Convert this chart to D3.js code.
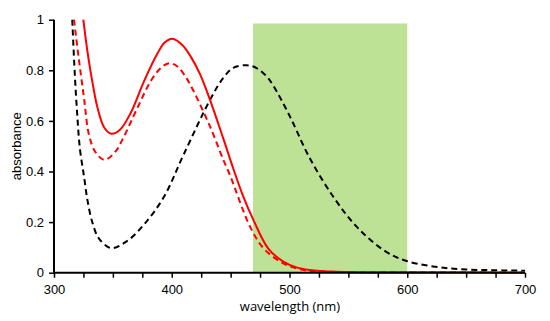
<!DOCTYPE html>
<html>
<head>
<meta charset="utf-8">
<script src="https://cdn.jsdelivr.net/npm/d3@7"></script>
<style>
  body { margin: 0; background: #fff; }
  text { font-family: Arial, "Liberation Sans", sans-serif; }
</style>
</head>
<body>
<div id="chart"></div>
<script>
// data
const blackWl  = [315.5, 317.6, 319.8, 322, 325.5, 328.3, 332.5, 338.2, 348.7, 362, 376.4, 393.4, 410, 432.5, 443.8, 452.3, 463.5, 472, 480.6, 486.2, 500.4, 516.5, 537.2, 557, 579.7, 599.5, 636, 670, 700];
const blackAbs = [1.0, 0.79, 0.62, 0.49, 0.38, 0.29, 0.2, 0.135, 0.097, 0.125, 0.19, 0.30, 0.466, 0.683, 0.77, 0.81, 0.82, 0.809, 0.776, 0.74, 0.617, 0.459, 0.30, 0.182, 0.09, 0.046, 0.017, 0.010, 0.008];

const redWl  = [324.9, 328, 332.5, 336.8, 342.5, 348.7, 356, 365, 376.4, 387.7, 394, 400.5, 409, 416, 424, 432.5, 443.8, 452, 460, 469.3, 482, 494.7, 506, 517, 540, 600, 700];
const redAbs = [1.0, 0.888, 0.756, 0.655, 0.575, 0.549, 0.565, 0.63, 0.756, 0.865, 0.91, 0.925, 0.9, 0.855, 0.785, 0.683, 0.53, 0.415, 0.31, 0.209, 0.095, 0.044, 0.021, 0.011, 0.004, 0.002, 0.001];

const redDashWl  = [317, 321, 325.5, 329.7, 335.4, 343, 352.4, 358, 370.7, 382, 390.6, 397.7, 404, 411, 418.3, 432.5, 443.8, 449.5, 466.5, 477.8, 492, 503, 515, 540, 600, 700];
const redDashAbs = [1.0, 0.848, 0.69, 0.545, 0.475, 0.446, 0.48, 0.525, 0.65, 0.756, 0.809, 0.828, 0.818, 0.78, 0.72, 0.578, 0.446, 0.385, 0.182, 0.097, 0.044, 0.021, 0.008, 0.003, 0.002, 0.001];

const band = [469, 600, 0.985]; // green region: from, to, top
const xTicks = [300, 400, 500, 600, 700];
const yTicks = [0, 0.2, 0.4, 0.6, 0.8, 1];

const width = 550, height = 321;
const margin = {top: 19.7, right: 25, bottom: 48.3, left: 54};

const svg = d3.select("#chart").append("svg")
  .attr("width", width)
  .attr("height", height);

const x = d3.scaleLinear().domain([300, 700]).range([margin.left, width - margin.right]);
const y = d3.scaleLinear().domain([0, 1]).range([height - margin.bottom, margin.top]);

// green band
svg.append("rect")
  .attr("x", x(band[0]))
  .attr("y", y(band[2]))
  .attr("width", x(band[1]) - x(band[0]))
  .attr("height", y(0) - y(band[2]))
  .attr("fill", "#bde295");

// curves
const line = d3.line()
  .curve(d3.curveCatmullRom.alpha(0.5))
  .x(d => x(d[0]))
  .y(d => y(d[1]));

svg.append("path")
  .datum(d3.zip(blackWl, blackAbs))
  .attr("fill", "none")
  .attr("stroke", "#000")
  .attr("stroke-width", 2)
  .attr("stroke-dasharray", "6,4")
  .attr("d", line);

svg.append("path")
  .datum(d3.zip(redDashWl, redDashAbs))
  .attr("fill", "none")
  .attr("stroke", "#ff0000")
  .attr("stroke-width", 2)
  .attr("stroke-dasharray", "6,4")
  .attr("d", line);

svg.append("path")
  .datum(d3.zip(redWl, redAbs))
  .attr("fill", "none")
  .attr("stroke", "#ff0000")
  .attr("stroke-width", 2)
  .attr("d", line);

// axes
const xAxis = svg.append("g")
  .attr("transform", "translate(0," + y(0) + ")")
  .call(d3.axisBottom(x).tickValues(d3.range(300, 701, 25)).tickSize(5)
    .tickFormat(d => xTicks.includes(d) ? d : ""));
xAxis.select(".domain").attr("stroke-width", 2).attr("d", "M" + x(300) + ",0H" + x(700));
xAxis.selectAll(".tick line").attr("stroke-width", 1.5);
xAxis.selectAll("text").attr("font-size", "13px").attr("fill", "#000").attr("dy", "1em");

const yAxis = svg.append("g")
  .attr("transform", "translate(" + x(300) + ",0)")
  .call(d3.axisLeft(y).tickValues(yTicks).tickSize(5).tickFormat(d3.format("")));
yAxis.select(".domain").attr("stroke-width", 2).attr("d", "M0," + y(0) + "V" + y(1));
yAxis.selectAll(".tick line").attr("stroke-width", 1.5);
yAxis.selectAll("text").attr("font-size", "13px").attr("fill", "#000").attr("x", -10);

// titles
svg.append("text")
  .attr("x", 290).attr("y", 311)
  .attr("text-anchor", "middle")
  .style("font-family", "'Open Sans', sans-serif")
  .style("font-size", "13px")
  .text("wavelength (nm)");

svg.append("text")
  .attr("transform", "translate(21," + ((y(0) + y(1)) / 2) + ") rotate(-90)")
  .attr("text-anchor", "middle")
  .style("font-size", "13px")
  .text("absorbance");
</script>
</body>
</html>
